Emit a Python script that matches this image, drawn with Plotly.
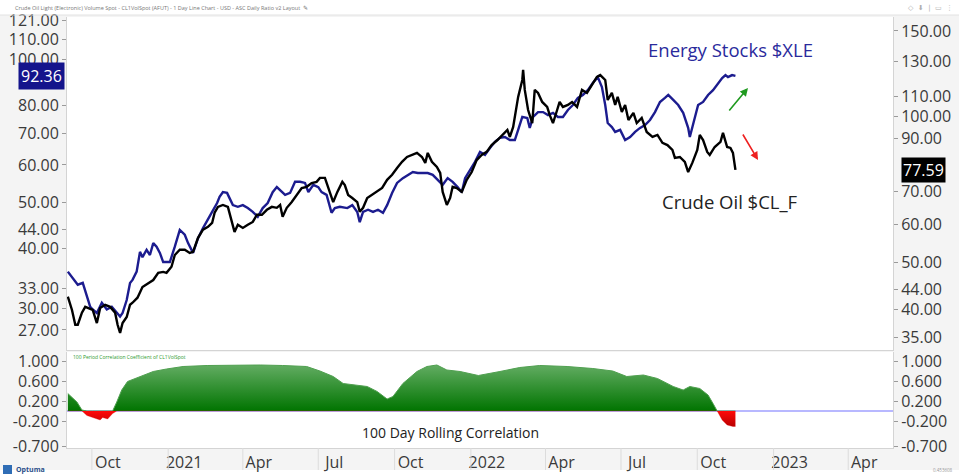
import numpy as np
import plotly.graph_objects as go

# ---------------- data ----------------
xle_dates = [
    "2020-09-02", "2020-09-08", "2020-09-14", "2020-09-20", "2020-09-25", "2020-09-29", "2020-10-02", "2020-10-07",
    "2020-10-13", "2020-10-19", "2020-10-25", "2020-10-31", "2020-11-04", "2020-11-07", "2020-11-12", "2020-11-16",
    "2020-11-19", "2020-11-24", "2020-11-28", "2020-12-01", "2020-12-06", "2020-12-10", "2020-12-14", "2020-12-18",
    "2020-12-22", "2020-12-26", "2021-01-03", "2021-01-09", "2021-01-15", "2021-01-21", "2021-01-25", "2021-01-31",
    "2021-02-06", "2021-02-12", "2021-02-18", "2021-02-23", "2021-03-01", "2021-03-04", "2021-03-08", "2021-03-13",
    "2021-03-16", "2021-03-20", "2021-03-26", "2021-04-01", "2021-04-07", "2021-04-13", "2021-04-19", "2021-04-25",
    "2021-05-01", "2021-05-07", "2021-05-12", "2021-05-16", "2021-05-22", "2021-05-28", "2021-06-03", "2021-06-09",
    "2021-06-15", "2021-06-19", "2021-06-25", "2021-07-01", "2021-07-05", "2021-07-11", "2021-07-17", "2021-07-21",
    "2021-07-27", "2021-08-05", "2021-08-11", "2021-08-17", "2021-08-20", "2021-08-24", "2021-08-30", "2021-09-05",
    "2021-09-11", "2021-09-17", "2021-09-22", "2021-09-28", "2021-10-04", "2021-10-11", "2021-10-17", "2021-10-23",
    "2021-10-29", "2021-11-04", "2021-11-10", "2021-11-16", "2021-11-22", "2021-11-28", "2021-12-04", "2021-12-10",
    "2021-12-16", "2021-12-21", "2021-12-25", "2021-12-31", "2022-01-06", "2022-01-12", "2022-01-18", "2022-01-24",
    "2022-01-30", "2022-02-05", "2022-02-11", "2022-02-17", "2022-02-23", "2022-02-27", "2022-03-04", "2022-03-10",
    "2022-03-13", "2022-03-17", "2022-03-23", "2022-03-29", "2022-04-04", "2022-04-10", "2022-04-16", "2022-04-22",
    "2022-04-28", "2022-05-04", "2022-05-10", "2022-05-16", "2022-05-22", "2022-05-28", "2022-06-03", "2022-06-08",
    "2022-06-12", "2022-06-15", "2022-06-20", "2022-06-24", "2022-06-30", "2022-07-06", "2022-07-12", "2022-07-18",
    "2022-07-24", "2022-07-30", "2022-08-05", "2022-08-11", "2022-08-17", "2022-08-23", "2022-08-27", "2022-09-02",
    "2022-09-08", "2022-09-14", "2022-09-20", "2022-09-22", "2022-09-26", "2022-10-02", "2022-10-08", "2022-10-14",
    "2022-10-20", "2022-10-26", "2022-10-31", "2022-11-04", "2022-11-07", "2022-11-12", "2022-11-16",
]
xle_values = [
    35.8, 34.7, 33.6, 33.9, 31.7, 30.2, 29.8, 29.3,
    30.8, 29.8, 30.2, 29.3, 28.8, 29.3, 31.2, 33.9,
    34.4, 35.8, 39.4, 38.4, 39.8, 38.8, 41.1, 40.4,
    39.2, 37.5, 37.5, 40.4, 43.8, 42.8, 41.1, 39.2,
    42.1, 44.2, 46.0, 47.8, 49.9, 51.4, 52.6, 52.4,
    51.1, 49.4, 49.0, 49.4, 48.7, 47.8, 46.7, 48.7,
    49.9, 52.6, 53.9, 53.0, 51.9, 52.4, 55.3, 55.3,
    55.0, 52.6, 54.5, 53.9, 52.6, 51.9, 47.6, 48.7,
    49.0, 48.7, 49.4, 47.8, 45.5, 47.8, 48.3, 47.8,
    48.3, 47.6, 49.4, 52.4, 55.0, 56.3, 57.2, 58.0,
    57.7, 57.7, 57.7, 57.2, 55.8, 54.5, 56.3, 55.3,
    53.9, 52.6, 56.3, 58.6, 60.9, 63.9, 63.0, 65.1,
    67.1, 68.4, 68.7, 67.7, 67.7, 71.1, 75.7, 75.3,
    71.8, 75.7, 77.5, 77.5, 76.4, 77.2, 75.7, 75.7,
    78.3, 80.2, 83.0, 84.2, 86.2, 89.2, 91.8, 87.5,
    80.2, 73.5, 72.1, 70.4, 71.1, 67.7, 68.7, 70.4,
    71.8, 72.8, 74.6, 77.5, 81.4, 83.0, 84.2, 82.2,
    80.2, 77.2, 71.8, 68.7, 72.8, 80.2, 81.4, 84.2,
    86.2, 89.2, 91.4, 92.7, 91.8, 92.7, 92.36,
]

oil_dates = [
    "2020-09-02", "2020-09-07", "2020-09-11", "2020-09-14", "2020-09-19", "2020-09-23", "2020-09-26", "2020-10-02",
    "2020-10-07", "2020-10-11", "2020-10-17", "2020-10-23", "2020-10-29", "2020-11-01", "2020-11-04", "2020-11-07",
    "2020-11-12", "2020-11-16", "2020-11-19", "2020-11-25", "2020-12-01", "2020-12-08", "2020-12-14", "2020-12-20",
    "2020-12-26", "2020-12-30", "2021-01-05", "2021-01-09", "2021-01-15", "2021-01-21", "2021-01-27", "2021-01-31",
    "2021-02-06", "2021-02-12", "2021-02-18", "2021-02-23", "2021-02-26", "2021-03-02", "2021-03-08", "2021-03-14",
    "2021-03-19", "2021-03-22", "2021-03-26", "2021-04-01", "2021-04-07", "2021-04-13", "2021-04-18", "2021-04-24",
    "2021-04-30", "2021-05-06", "2021-05-12", "2021-05-16", "2021-05-19", "2021-05-24", "2021-05-30", "2021-06-05",
    "2021-06-11", "2021-06-17", "2021-06-23", "2021-06-29", "2021-07-03", "2021-07-09", "2021-07-13", "2021-07-19",
    "2021-07-24", "2021-07-30", "2021-08-02", "2021-08-06", "2021-08-11", "2021-08-17", "2021-08-20", "2021-08-24",
    "2021-08-29", "2021-09-04", "2021-09-10", "2021-09-16", "2021-09-22", "2021-09-28", "2021-10-04", "2021-10-10",
    "2021-10-16", "2021-10-22", "2021-10-28", "2021-11-03", "2021-11-07", "2021-11-10", "2021-11-15", "2021-11-21",
    "2021-11-25", "2021-11-28", "2021-12-03", "2021-12-07", "2021-12-10", "2021-12-15", "2021-12-21", "2021-12-27",
    "2022-01-02", "2022-01-08", "2022-01-14", "2022-01-20", "2022-01-26", "2022-02-02", "2022-02-08", "2022-02-14",
    "2022-02-17", "2022-02-21", "2022-02-27", "2022-03-04", "2022-03-05", "2022-03-07", "2022-03-11", "2022-03-16",
    "2022-03-19", "2022-03-23", "2022-03-28", "2022-04-03", "2022-04-06", "2022-04-10", "2022-04-15", "2022-04-18",
    "2022-04-22", "2022-04-28", "2022-05-03", "2022-05-09", "2022-05-15", "2022-05-21", "2022-05-27", "2022-06-02",
    "2022-06-06", "2022-06-12", "2022-06-15", "2022-06-20", "2022-06-24", "2022-06-27", "2022-07-02", "2022-07-06",
    "2022-07-10", "2022-07-16", "2022-07-20", "2022-07-26", "2022-08-01", "2022-08-08", "2022-08-14", "2022-08-20",
    "2022-08-26", "2022-09-01", "2022-09-04", "2022-09-10", "2022-09-16", "2022-09-20", "2022-09-25", "2022-10-01",
    "2022-10-04", "2022-10-08", "2022-10-13", "2022-10-16", "2022-10-22", "2022-10-29", "2022-11-01", "2022-11-06",
    "2022-11-10", "2022-11-13", "2022-11-16",
]
oil_values = [
    42.5, 39.9, 37.2, 37.2, 39.4, 40.5, 40.3, 39.9,
    37.5, 40.3, 40.9, 40.5, 39.4, 37.2, 35.8, 37.5,
    38.6, 40.9, 41.3, 42.3, 44.5, 45.4, 46.0, 47.6,
    47.8, 47.6, 49.0, 51.8, 53.1, 53.1, 52.3, 52.6,
    56.2, 58.4, 59.2, 60.3, 63.3, 65.1, 65.7, 65.1,
    60.6, 57.8, 59.8, 58.9, 59.8, 60.6, 62.7, 62.7,
    64.2, 65.1, 64.8, 65.7, 62.1, 64.8, 66.6, 68.9,
    71.2, 71.6, 72.9, 73.3, 74.7, 74.7, 71.2, 66.6,
    69.9, 73.3, 72.2, 68.9, 67.9, 66.6, 63.6, 64.8,
    67.9, 68.9, 69.9, 71.2, 74.0, 75.8, 78.3, 80.6,
    82.5, 83.3, 84.1, 82.5, 80.2, 84.1, 80.6, 78.7,
    76.5, 69.9, 65.7, 67.9, 71.6, 71.2, 69.9, 74.0,
    76.8, 81.3, 83.3, 84.5, 87.3, 89.4, 91.6, 93.8,
    90.7, 95.1, 109.7, 118.9, 124.7, 113.4, 103.1, 96.9,
    113.4, 111.8, 107.1, 104.6, 100.7, 96.9, 103.1, 107.1,
    104.6, 105.6, 107.1, 104.6, 113.4, 111.8, 116.1, 120.6,
    121.7, 118.9, 108.1, 111.8, 105.6, 109.7, 102.1, 105.6,
    98.3, 101.7, 96.9, 99.3, 92.9, 90.7, 91.6, 88.2,
    87.3, 85.3, 82.1, 82.5, 80.6, 76.8, 80.2, 85.3,
    91.6, 89.4, 84.5, 83.3, 86.5, 88.6, 92.5, 86.5,
    86.1, 84.1, 77.59,
]

corr_dates = [
    "2020-09-02", "2020-09-13", "2020-09-19", "2020-09-25", "2020-10-02", "2020-10-11", "2020-10-14", "2020-10-20",
    "2020-10-26", "2020-10-31", "2020-11-06", "2020-11-13", "2020-11-28", "2020-12-14", "2020-12-30", "2021-01-19",
    "2021-02-17", "2021-03-20", "2021-04-22", "2021-05-19", "2021-06-17", "2021-07-03", "2021-07-19", "2021-07-31",
    "2021-08-17", "2021-08-29", "2021-09-10", "2021-09-22", "2021-09-29", "2021-10-11", "2021-10-28", "2021-11-09",
    "2021-11-21", "2021-12-03", "2021-12-19", "2022-01-10", "2022-02-05", "2022-03-01", "2022-03-25", "2022-04-27",
    "2022-05-28", "2022-06-21", "2022-07-08", "2022-07-28", "2022-08-14", "2022-09-02", "2022-09-14", "2022-09-22",
    "2022-10-04", "2022-10-14", "2022-10-20", "2022-10-25", "2022-10-31", "2022-11-06", "2022-11-13", "2022-11-16",
]
corr_values = [
    0.35, 0.18, 0.02, -0.09, -0.13, -0.18, -0.13, -0.16,
    -0.05, 0.18, 0.42, 0.59, 0.69, 0.79, 0.84, 0.89,
    0.91, 0.92, 0.92, 0.91, 0.89, 0.80, 0.69, 0.55,
    0.51, 0.49, 0.39, 0.24, 0.29, 0.55, 0.79, 0.89,
    0.92, 0.82, 0.79, 0.71, 0.79, 0.87, 0.91, 0.89,
    0.85, 0.80, 0.69, 0.72, 0.65, 0.49, 0.42, 0.49,
    0.45, 0.32, 0.15, 0.0, -0.18, -0.28, -0.31, -0.31,
]

xle_ticks = [27, 30, 33, 40, 44, 50, 60, 70, 80, 100, 110, 121]
oil_ticks = [35, 40, 44, 50, 60, 70, 90, 100, 110, 130, 150]
corr_ticks = [-0.7, -0.2, 0.2, 0.6, 1.0]
x_tick_dates = ["2020-10-01", "2021-01-01", "2021-04-01", "2021-07-01", "2021-10-01", "2022-01-01",
                "2022-04-01", "2022-07-01", "2022-10-01", "2023-01-01", "2023-04-01"]
x_tick_text = ["Oct", "2021", "Apr", "Jul", "Oct", "2022", "Apr", "Jul", "Oct", "2023", "Apr"]

xle_last = xle_values[-1]
oil_last = oil_values[-1]

# ---------------- figure ----------------
FONT = "Open Sans"
TXT = "#3a3a3a"
NAVY = "#1c1c8f"

corr = np.array(corr_values)
corr_pos = np.clip(corr, 0, None)
corr_neg = np.clip(corr, None, 0)

fig = go.Figure()
fig.add_trace(go.Scatter(x=xle_dates, y=xle_values, mode="lines", xaxis="x", yaxis="y",
                         line=dict(color=NAVY, width=2.4), hoverinfo="skip"))
fig.add_trace(go.Scatter(x=oil_dates, y=oil_values, mode="lines", xaxis="x", yaxis="y2",
                         line=dict(color="#000000", width=2.4), hoverinfo="skip"))
fig.add_trace(go.Scatter(x=corr_dates, y=corr_pos, mode="lines", xaxis="x2", yaxis="y3",
                         fill="tozeroy",
                         fillgradient=dict(type="vertical",
                                           colorscale=[[0, "rgb(0,116,0)"], [1, "rgb(98,172,98)"]]),
                         line=dict(color="rgb(80,160,80)", width=1), hoverinfo="skip"))
fig.add_trace(go.Scatter(x=corr_dates, y=corr_neg, mode="lines", xaxis="x2", yaxis="y3",
                         fill="tozeroy",
                         fillgradient=dict(type="vertical",
                                           colorscale=[[0, "rgb(185,0,0)"], [1, "rgb(255,10,10)"]]),
                         line=dict(color="rgba(230,0,0,0.6)", width=0.5), hoverinfo="skip"))
fig.add_trace(go.Scatter(x=corr_dates, y=corr_values, mode="lines", xaxis="x2", yaxis="y4",
                         line=dict(width=0, color="rgba(0,0,0,0)"), hoverinfo="skip"))

W, H = 826, 431
def px(x):
    return (x - 67) / W
def py(y):
    return (448 - y) / H

tickfont = dict(family=FONT, size=16, color=TXT)
yax_common = dict(showgrid=False, zeroline=False, ticks="outside", ticklen=4, tickcolor="#9a9a9a",
                  showline=True, linecolor="#d4d4d4", tickfont=tickfont, automargin=False)

fig.update_layout(
    width=959, height=475,
    margin=dict(l=67, r=66, t=17, b=27, autoexpand=False),
    paper_bgcolor="#f4f4f4", plot_bgcolor="white", showlegend=False,
    font=dict(family=FONT, size=16, color=TXT),
    xaxis=dict(type="date", range=["2020-09-01", "2023-05-25"], domain=[0, 1], anchor="y",
               showticklabels=False, showgrid=False, zeroline=False, ticks="",
               showline=True, linecolor="#d4d4d4", automargin=False),
    xaxis2=dict(type="date", matches="x", anchor="y3", domain=[0, 1],
                tickvals=x_tick_dates, ticktext=x_tick_text, ticklabelshift=16,
                showgrid=False, zeroline=False, ticks="", showline=True, linecolor="#d4d4d4",
                tickfont=dict(family=FONT, size=16, color=TXT), automargin=False),
    yaxis=dict(domain=[py(350), 1], anchor="x", type="log",
               range=[np.log10(24.5), np.log10(122.8)],
               tickvals=xle_ticks, ticktext=[f"{v:.2f}" for v in xle_ticks], **yax_common),
    yaxis2=dict(overlaying="y", side="right", anchor="x", type="log",
                range=[np.log10(33.0), np.log10(160.3)],
                tickvals=oil_ticks, ticktext=[f"{v:.2f}" for v in oil_ticks], **yax_common),
    yaxis3=dict(domain=[0, py(352)], anchor="x2", range=[-0.74, 1.18],
                tickvals=corr_ticks, ticktext=[f"{v:.3f}" for v in corr_ticks],
                showgrid=False, zeroline=True, zerolinecolor="#b8b8ff", zerolinewidth=2,
                ticks="outside", ticklen=4, tickcolor="#9a9a9a", showline=True, linecolor="#d4d4d4",
                tickfont=tickfont, automargin=False),
    yaxis4=dict(overlaying="y3", side="right", anchor="x2", range=[-0.74, 1.18],
                tickvals=corr_ticks, ticktext=[f"{v:.3f}" for v in corr_ticks],
                showgrid=False, zeroline=False,
                ticks="outside", ticklen=4, tickcolor="#9a9a9a", showline=True, linecolor="#d4d4d4",
                tickfont=tickfont, automargin=False),
)

shapes = []
# white title strip on top
shapes.append(dict(type="rect", xref="paper", yref="paper", x0=px(0), x1=px(959), y0=py(15), y1=py(0),
                   fillcolor="white", line=dict(width=0), layer="below"))
shapes.append(dict(type="line", xref="paper", yref="paper", x0=px(0), x1=px(959), y0=py(15), y1=py(15),
                   line=dict(color="#e2e2e2", width=1)))
# white strip at the very bottom (logo band)
shapes.append(dict(type="rect", xref="paper", yref="paper", x0=px(0), x1=px(959), y0=py(475), y1=py(470),
                   fillcolor="white", line=dict(width=0), layer="below"))
# separators in the date band
for d in x_tick_dates:
    shapes.append(dict(type="line", xref="x2", yref="paper", x0=d, x1=d, y0=py(448), y1=py(470),
                       line=dict(color="#dcdcdc", width=1)))
# Optuma logo mark
shapes.append(dict(type="rect", xref="paper", yref="paper", x0=px(3), x1=px(12), y0=py(474), y1=py(465),
                   fillcolor="#2f6db5", line=dict(width=0)))
fig.update_layout(shapes=shapes)

ann = []
ann.append(dict(text="Crude Oil Light (Electronic) Volume Spot - CL1VolSpot (AFUT) - 1 Day Line Chart - USD - ASC Daily Ratio v2 Layout  \u270e",
                xref="paper", yref="paper", x=px(13), y=py(8), xanchor="left", yanchor="middle",
                showarrow=False, font=dict(family=FONT, size=5.5, color="#777777")))
ann.append(dict(text="\u25c7  \u2b07  |  \u25ad  \u22ee", xref="paper", yref="paper", x=px(955), y=py(8),
                xanchor="right", yanchor="middle", showarrow=False,
                font=dict(family="DejaVu Sans", size=7, color="#b0b0b0")))
ann.append(dict(text="Energy Stocks $XLE", xref="paper", yref="paper", x=px(730), y=py(50),
                xanchor="center", yanchor="middle", showarrow=False,
                font=dict(family=FONT, size=18.5, color="#2a2a9c")))
ann.append(dict(text="Crude Oil $CL_F", xref="paper", yref="paper", x=px(730), y=py(201),
                xanchor="center", yanchor="middle", showarrow=False,
                font=dict(family=FONT, size=18.5, color="#222222")))
ann.append(dict(text="100 Day Rolling Correlation", xref="paper", yref="paper", x=px(450), y=py(432),
                xanchor="center", yanchor="middle", showarrow=False,
                font=dict(family=FONT, size=14, color="#222222")))
ann.append(dict(text="100 Period Correlation Coefficient of CL1VolSpot", xref="paper", yref="paper",
                x=px(71), y=py(357), xanchor="left", yanchor="middle", showarrow=False,
                font=dict(family=FONT, size=5, color="#2e9a2e")))
# trend arrows
ann.append(dict(text="", xref="paper", yref="paper", x=px(748), y=py(88), ax=-20, ay=24,
                showarrow=True, arrowhead=2, arrowsize=1, arrowwidth=1.6, arrowcolor="#1f9a1f"))
ann.append(dict(text="", xref="paper", yref="paper", x=px(758), y=py(160), ax=-16, ay=-27,
                showarrow=True, arrowhead=2, arrowsize=1, arrowwidth=1.6, arrowcolor="#ee2020"))
# last value boxes
ann.append(dict(text=f"{xle_last:.2f}", xref="paper", yref="y", x=0, y=np.log10(xle_last),
                xanchor="right", yanchor="middle", xshift=-2, showarrow=False,
                bgcolor="#14148c", borderpad=2, font=dict(family=FONT, size=16, color="white")))
ann.append(dict(text=f"{oil_last:.2f}", xref="paper", yref="y2", x=1, y=np.log10(oil_last),
                xanchor="left", yanchor="middle", xshift=8, showarrow=False,
                bgcolor="#000000", borderpad=1, font=dict(family=FONT, size=16, color="white")))
# logo text and footer
ann.append(dict(text="<b>Optuma</b>", xref="paper", yref="paper", x=px(14), y=py(469.5),
                xanchor="left", yanchor="middle", showarrow=False,
                font=dict(family=FONT, size=7, color="#2a4f8a")))
ann.append(dict(text="0.453608", xref="paper", yref="paper", x=px(955), y=py(470),
                xanchor="right", yanchor="middle", showarrow=False,
                font=dict(family=FONT, size=4.5, color="#999999")))
fig.update_layout(annotations=ann)

fig.write_html("out.html", config={"displayModeBar": False},
               post_script="document.body.style.margin='0';document.body.style.overflow='hidden';")
